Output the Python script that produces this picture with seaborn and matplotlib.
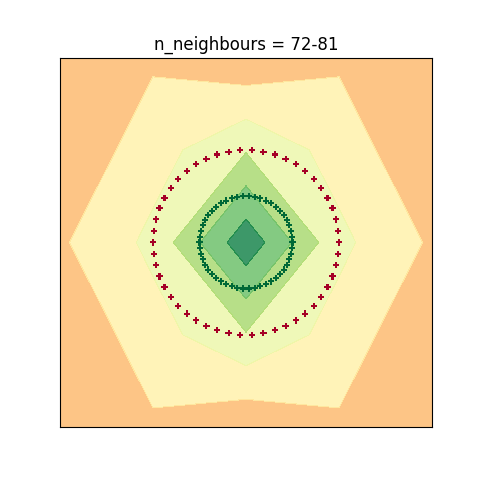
import numpy as np
import pandas as pd
import matplotlib
matplotlib.use("Agg")
import matplotlib.pyplot as plt
import seaborn as sns

# two concentric rings of 50 points each (angles in degrees)
ring_angles_deg = [0.0, 7.2, 14.4, 21.6, 28.8, 36.0, 43.2, 50.4, 57.6, 64.8,
                   72.0, 79.2, 86.4, 93.6, 100.8, 108.0, 115.2, 122.4, 129.6, 136.8,
                   144.0, 151.2, 158.4, 165.6, 172.8, 180.0, 187.2, 194.4, 201.6, 208.8,
                   216.0, 223.2, 230.4, 237.6, 244.8, 252.0, 259.2, 266.4, 273.6, 280.8,
                   288.0, 295.2, 302.4, 309.6, 316.8, 324.0, 331.2, 338.4, 345.6, 352.8]
ring_radius = {"outer": 1.0, "inner": 0.5}

# coarse decision grid (probability of "inner" class)
grid_x = [-2, -1, 0, 1, 2]
grid_y = [-2, -1, 0, 1, 2]
grid_prob = [
    [0.280, 0.385, 0.317, 0.385, 0.280],
    [0.313, 0.457, 0.592, 0.457, 0.313],
    [0.386, 0.525, 0.870, 0.525, 0.386],
    [0.313, 0.457, 0.592, 0.457, 0.313],
    [0.280, 0.385, 0.317, 0.385, 0.280],
]
levels = [0.25, 0.40, 0.50, 0.60, 0.70, 0.80, 0.95]
band_cmap_pos = [0.32, 0.45, 0.55, 0.70, 0.80, 0.95]

rows = []
for ring, r in ring_radius.items():
    for a in ring_angles_deg:
        t = np.deg2rad(a)
        rows.append({"x": r * np.cos(t), "y": r * np.sin(t), "ring": ring})
pts = pd.DataFrame(rows)

cmap = plt.cm.RdYlGn
fig = plt.figure(figsize=(4.8, 4.8), dpi=100)
ax = fig.add_subplot(111)

xx, yy = np.meshgrid(grid_x, grid_y)
ax.contourf(xx, yy, np.array(grid_prob), levels=levels,
            colors=[cmap(p) for p in band_cmap_pos], alpha=0.8)

sns.scatterplot(data=pts, x="x", y="y", hue="ring",
                palette={"outer": cmap(0.0), "inner": cmap(1.0)},
                marker="P", s=20, linewidth=0, legend=False, ax=ax)

ax.set_xlim(-2, 2)
ax.set_ylim(-2, 2)
ax.set_xticks([])
ax.set_yticks([])
ax.set_xlabel("")
ax.set_ylabel("")
ax.set_title("n_neighbours = 72-81")

fig.savefig("out.png", dpi=100)
